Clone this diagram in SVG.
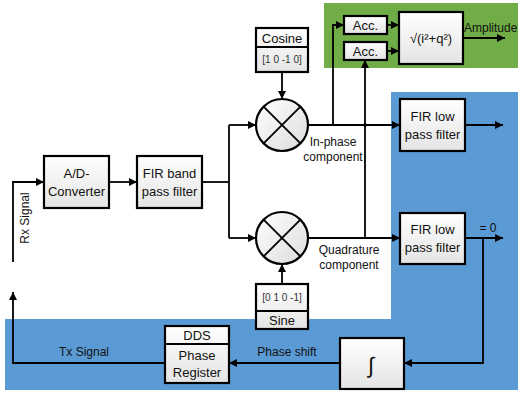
<svg xmlns="http://www.w3.org/2000/svg" width="518" height="396" viewBox="0 0 518 396">
  <defs>
    <linearGradient id="boxFill" x1="0" y1="0" x2="0" y2="1">
      <stop offset="0" stop-color="#ffffff"/>
      <stop offset="1" stop-color="#e4e4e4"/>
    </linearGradient>
    <linearGradient id="mixFill" x1="0" y1="0" x2="1" y2="1">
      <stop offset="0" stop-color="#ffffff"/>
      <stop offset="1" stop-color="#dcdcdc"/>
    </linearGradient>
    <marker id="arr" viewBox="0 0 10 10" refX="10" refY="5" markerWidth="4.5" markerHeight="4.5" orient="auto" markerUnits="strokeWidth">
      <path d="M0,0 L10,5 L0,10 z" fill="#000"/>
    </marker>
  </defs>
  <style>
    .box { fill: url(#boxFill); stroke: #000; stroke-width: 2.2; }
    .mix { fill: url(#mixFill); stroke: #000; stroke-width: 2.2; }
    .ln { fill: none; stroke: #000; stroke-width: 1.8; }
    .a { marker-end: url(#arr); }
    text { font-family: "Liberation Sans", Arial, sans-serif; fill: #111; }
    .t { font-size: 13px; text-anchor: middle; }
    .s { font-size: 10px; text-anchor: middle; fill: #333; }
    .lbl { font-size: 12px; text-anchor: middle; }
  </style>

  <!-- background regions -->
  <rect x="324" y="3" width="194" height="65" fill="#70AD47"/>
  <path d="M391,92 H518 V390 H5 V319 H391 Z" fill="#5B9BD5"/>

  <!-- connectors -->
  <g id="connectors">
    <path class="ln a" d="M13,262 V182 H44"/>
    <path class="ln a" d="M109,182 H137"/>
    <path class="ln" d="M202,182 H229"/>
    <path class="ln" d="M229,125 V238"/>
    <path class="ln a" d="M229,125 H256"/>
    <path class="ln a" d="M229,238 H256"/>
    <path class="ln a" d="M282,72 V99"/>
    <path class="ln a" d="M282,284 V264"/>
    <path class="ln a" d="M308,125 H400"/>
    <path class="ln a" d="M308,238 H400"/>
    <path class="ln a" d="M465,125 H503"/>
    <path class="ln a" d="M465,238 H503"/>
    <path class="ln a" d="M333,125 V25 H344"/>
    <path class="ln a" d="M365,238 V60"/>
    <circle cx="365" cy="125" r="1.8" fill="#000"/>
    <path class="ln a" d="M387,25 H399"/>
    <path class="ln a" d="M387,51 H399"/>
    <path class="ln a" d="M463,38 H505"/>
    <path class="ln a" d="M483,238 V363 H404"/>
    <path class="ln a" d="M340,363 H229"/>
    <path class="ln a" d="M165,363 H13 V292"/>
  </g>

  <!-- connector labels -->
  <text class="lbl" x="25" y="218" transform="rotate(-90 25 218)" dy="4">Rx Signal</text>
  <text class="lbl" x="84" y="356">Tx Signal</text>
  <text class="lbl" x="287" y="356">Phase shift</text>
  <text class="lbl" x="333" y="146">In-phase</text>
  <text class="lbl" x="333" y="161">component</text>
  <text class="lbl" x="349" y="254">Quadrature</text>
  <text class="lbl" x="349" y="269">component</text>
  <text class="lbl" x="488" y="232">= 0</text>
  <text x="464" y="32" style="font-size:12px">Amplitude</text>

  <!-- nodes -->
  <g id="adc">
    <rect class="box" x="44" y="156" width="65" height="52"/>
    <text class="t" x="76.5" y="177.5">A/D-</text>
    <text class="t" x="76.5" y="196">Converter</text>
  </g>
  <g id="bandpass">
    <rect class="box" x="137" y="156" width="65" height="52"/>
    <text class="t" x="169.5" y="177.5">FIR band</text>
    <text class="t" x="169.5" y="196">pass filter</text>
  </g>
  <g id="mixer-i">
    <circle class="mix" cx="282" cy="125" r="26"/>
    <path class="ln" d="M263.6,106.6 L300.4,143.4 M300.4,106.6 L263.6,143.4"/>
  </g>
  <g id="mixer-q">
    <circle class="mix" cx="282" cy="238" r="26"/>
    <path class="ln" d="M263.6,219.6 L300.4,256.4 M300.4,219.6 L263.6,256.4"/>
  </g>
  <g id="cosine">
    <rect class="box" x="256" y="28" width="52" height="44"/>
    <line class="ln" x1="256" y1="47" x2="308" y2="47"/>
    <text class="t" x="282" y="42.5">Cosine</text>
    <text class="s" x="282" y="63">[1 0 -1 0]</text>
  </g>
  <g id="sine">
    <rect class="box" x="256" y="284" width="52" height="45"/>
    <line class="ln" x1="256" y1="311" x2="308" y2="311"/>
    <text class="s" x="282" y="301">[0 1 0 -1]</text>
    <text class="t" x="282" y="325">Sine</text>
  </g>
  <g id="lowpass-i">
    <rect class="box" x="400" y="99" width="65" height="52"/>
    <text class="t" x="432.5" y="120.5">FIR low</text>
    <text class="t" x="432.5" y="138.5">pass filter</text>
  </g>
  <g id="lowpass-q">
    <rect class="box" x="400" y="213" width="65" height="51"/>
    <text class="t" x="432.5" y="233.5">FIR low</text>
    <text class="t" x="432.5" y="252">pass filter</text>
  </g>
  <g id="acc-i">
    <rect class="box" x="344" y="16" width="43" height="18"/>
    <text class="t" x="365.5" y="30">Acc.</text>
  </g>
  <g id="acc-q">
    <rect class="box" x="344" y="42" width="43" height="18"/>
    <text class="t" x="365.5" y="56">Acc.</text>
  </g>
  <g id="magnitude">
    <rect class="box" x="399" y="12" width="64" height="52"/>
    <text class="t" x="431" y="43">√(i²+q²)</text>
  </g>
  <g id="integrator">
    <rect class="box" x="340" y="338" width="64" height="51"/>
    <text class="t" x="371" y="373" style="font-size:22px">∫</text>
  </g>
  <g id="dds">
    <rect class="box" x="165" y="326" width="64" height="57"/>
    <line class="ln" x1="165" y1="344" x2="229" y2="344"/>
    <text class="t" x="197" y="340">DDS</text>
    <text class="t" x="197" y="359.5">Phase</text>
    <text class="t" x="197" y="376.5">Register</text>
  </g>
</svg>
